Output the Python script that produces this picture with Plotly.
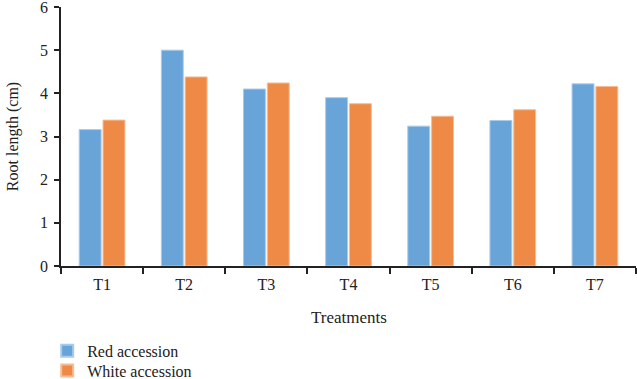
import plotly.graph_objects as go

treatments = ["T1", "T2", "T3", "T4", "T5", "T6", "T7"]
red_accession = [3.16, 5.00, 4.10, 3.90, 3.24, 3.37, 4.22]
white_accession = [3.38, 4.38, 4.24, 3.76, 3.47, 3.62, 4.16]

font_family = "Liberation Serif, DejaVu Serif, serif"
legend_font = dict(family=font_family, size=16, color="#222222")

fig = go.Figure()
fig.add_trace(go.Bar(
    x=treatments, y=red_accession, name="Red accession", legend="legend",
    marker=dict(color="#69A4D9", line=dict(color="#A9CBEB", width=1)),
))
fig.add_trace(go.Bar(
    x=treatments, y=white_accession, name="White accession", legend="legend2",
    marker=dict(color="#EE8A45", line=dict(color="#F6BD96", width=1)),
))

fig.update_layout(
    width=637, height=379,
    margin=dict(l=61, r=1, t=7, b=113, autoexpand=False),
    paper_bgcolor="white", plot_bgcolor="white",
    font=dict(family=font_family, size=16, color="#222222"),
    barmode="group", bargap=0.42, bargroupgap=0.08,
    showlegend=True,
    legend=dict(
        orientation="v", x=-0.024, y=-0.328, xanchor="left", yanchor="middle",
        font=legend_font, itemsizing="constant", bgcolor="rgba(0,0,0,0)",
    ),
    legend2=dict(
        orientation="v", x=-0.024, y=-0.404, xanchor="left", yanchor="middle",
        font=legend_font, itemsizing="constant", bgcolor="rgba(0,0,0,0)",
    ),
    annotations=[dict(
        text="Treatments", xref="paper", yref="paper", x=0.5, y=-0.2,
        xanchor="center", yanchor="middle", showarrow=False,
        font=dict(family=font_family, size=17, color="#222222"),
    )],
)
fig.update_xaxes(
    showline=True, linecolor="#222222", linewidth=1.5,
    ticks="outside", tickson="boundaries", ticklen=6, tickcolor="#222222",
    tickwidth=1.5, ticklabelstandoff=3,
    showgrid=False, zeroline=False,
    tickfont=dict(size=16),
)
fig.update_yaxes(
    range=[0, 6], tickvals=[0, 1, 2, 3, 4, 5, 6],
    showline=True, linecolor="#222222", linewidth=1.5,
    ticks="outside", ticklen=5, tickcolor="#222222", tickwidth=1.5,
    ticklabeloverflow="allow", ticklabelstandoff=3,
    showgrid=False, zeroline=False,
    title=dict(text="Root length (cm)", standoff=17, font=dict(size=16)),
    tickfont=dict(size=16),
)

fig.write_html("out.html")
